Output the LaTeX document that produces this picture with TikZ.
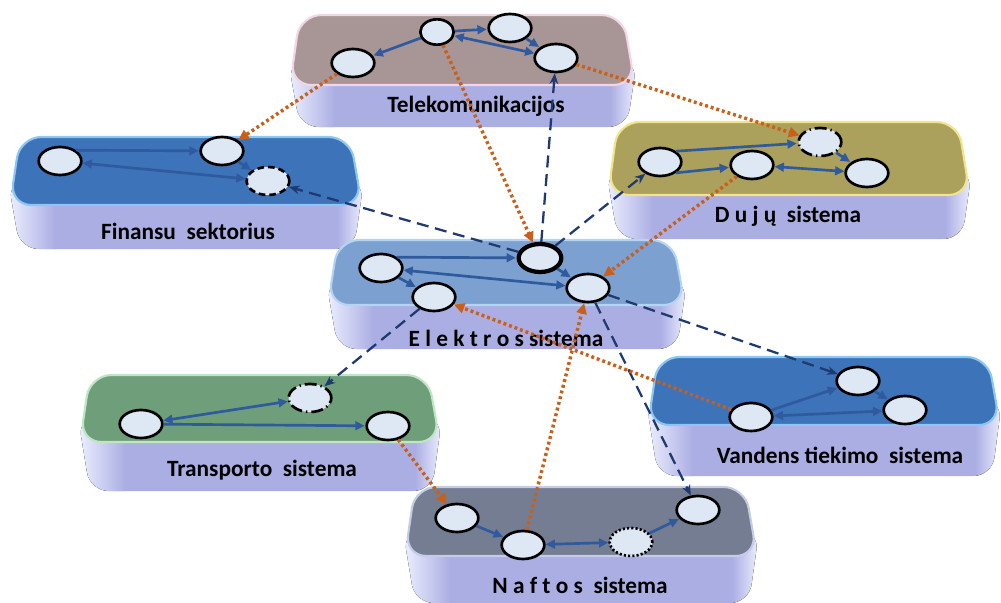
\documentclass[tikz,border=0pt]{standalone}
\usepackage{fontspec}
\setmainfont{Carlito}
\usetikzlibrary{shapes.geometric,arrows.meta}
\definecolor{lav}{HTML}{ABAEE3}
\definecolor{lavlight}{HTML}{EEF0FF}
\definecolor{nfill}{HTML}{DDE8F4}
\definecolor{eblue}{HTML}{2F5A9E}
\definecolor{navy}{HTML}{1F3A6E}
\definecolor{orng}{HTML}{C9601A}
\definecolor{teletop}{HTML}{A89595}
\definecolor{telerim}{HTML}{F2D6E6}
\definecolor{finblue}{HTML}{3D73B9}
\definecolor{finrim}{HTML}{8CC6F2}
\definecolor{olive}{HTML}{ABA05C}
\definecolor{olrim}{HTML}{F2E48A}
\definecolor{eltop}{HTML}{7CA1D1}
\definecolor{elrim}{HTML}{B4D4F4}
\definecolor{grtop}{HTML}{6F9E7A}
\definecolor{grrim}{HTML}{BFE6C4}
\definecolor{natop}{HTML}{747D91}
\definecolor{narim}{HTML}{C6CCE6}
\newcommand{\slab}[7]{%
  \fill[lav, rounded corners=14] ({#1-2},{#4-25}) -- ({#1+10},#5) -- ({#2-8},#5) -- ({#2+2},{#4-25}) -- cycle;
  \begin{scope}
    \clip[rounded corners=14] ({#1-2},{#4-25}) -- ({#1+10},#5) -- ({#2-8},#5) -- ({#2+2},{#4-25}) -- cycle;
    \fill[left color=lavlight, right color=lav] ({#1-2},{#4-25}) rectangle ({#1+45},#5);
    \fill[left color=lav, right color=lavlight] ({#2-25},{#4-25}) rectangle ({#2+2},#5);
  \end{scope}
  \filldraw[fill=#6, draw=#7, line width=1.6pt, rounded corners=16] ({#1+10},#3) -- ({#2-12},#3) -- (#2,#4) -- (#1,#4) -- cycle;
}
\tikzset{
  enode/.style={ellipse, draw=black, line width=2pt, fill=nfill, minimum width=32pt, minimum height=21pt, inner sep=0pt},
  lbl/.style={font=\fontsize{17.5}{20}\selectfont\bfseries, text=black, inner sep=0pt},
  inedge/.style={draw=eblue, line width=2pt, -{Triangle[length=7pt,width=6.5pt]}, shorten >=0.5pt},
  biedge/.style={draw=eblue, line width=2pt, {Triangle[length=7pt,width=6.5pt]}-{Triangle[length=7pt,width=6.5pt]}},
  dashc/.style={draw=navy, line width=1.7pt, dash pattern=on 9pt off 5pt, -{Stealth[length=8pt,width=6.5pt]}},
  dotc/.style={draw=orng, line width=2.6pt, dash pattern=on 2.2pt off 2.2pt, -{Triangle[length=8pt,width=7.5pt]}}
}
\begin{document}
\begin{tikzpicture}[x=0.75pt,y=-0.75pt]
\useasboundingbox (0,0) rectangle (1001,603);
% slabs
\slab{290}{635}{15}{85}{127}{teletop}{telerim}
\slab{10}{362}{137}{205}{249}{finblue}{finrim}
\slab{608}{970}{122}{195}{239}{olive}{olrim}
\slab{328}{685}{240}{305}{349}{eltop}{elrim}
\slab{80}{440}{375}{442}{491}{grtop}{grrim}
\slab{648}{1000}{357}{425}{476}{finblue}{finrim}
\slab{405}{757}{487}{556}{603}{natop}{narim}
% labels
\node[lbl] (lt) at (476,106) {Telekomunikacijos};
\node[lbl] (lf) at (188,231) {Finansu\ \ sektorius};
\node[lbl] (ld) at (788,216) {D u j ų\ \ sistema};
\node[lbl] (le) at (506,338) {E l e k t r o s sistema};
\node[lbl] (lr) at (262,470) {Transporto\ \ sistema};
\node[lbl] (lv) at (840,455) {Vandens tiekimo\ \ sistema};
\node[lbl] (ln) at (580,585) {N a f t o s\ \ sistema};
% nodes
\node[enode] (T1) at (353,63) {};
\node[enode, minimum width=25pt, minimum height=19pt] (T2) at (437,32) {};
\node[enode] (T3) at (510,28) {};
\node[enode] (T4) at (556,58) {};
\node[enode] (F1) at (60,161) {};
\node[enode] (F2) at (222,151) {};
\node[enode, dash pattern=on 5pt off 3pt] (F3) at (268,181) {};
\node[enode] (D1) at (660,162) {};
\node[enode] (D2) at (752,165) {};
\node[enode, dash pattern=on 9pt off 3pt on 1pt off 3pt] (D3) at (820,142) {};
\node[enode] (D4) at (867,173) {};
\node[enode] (E1) at (381,268) {};
\node[enode, line width=3.2pt] (E2) at (540,258) {};
\node[enode] (E3) at (434,297) {};
\node[enode] (E4) at (588,288) {};
\node[enode] (R1) at (141,424) {};
\node[enode, dash pattern=on 9pt off 3pt on 1pt off 3pt] (R2) at (310,398) {};
\node[enode] (R3) at (388,426) {};
\node[enode] (V1) at (751,417) {};
\node[enode] (V2) at (858,381) {};
\node[enode] (V3) at (905,410) {};
\node[enode] (N1) at (457,518) {};
\node[enode] (N2) at (523,545) {};
\node[enode, dash pattern=on 1.6pt off 1.6pt] (N3) at (631,542) {};
\node[enode] (N4) at (698,510) {};
% inner edges
\draw[inedge] (T2) -- (T1);
\draw[inedge] (T2) -- (T3);
\draw[inedge] (T3) -- (T4);
\draw[biedge] (T2) -- (T4);
\draw[inedge] (F1.north east) -- (F2);
\draw[inedge] (F2) -- (F3);
\draw[biedge] (F1) -- (F3);
\draw[inedge] (D1.north east) -- (D3);
\draw[inedge] (D1.south east) -- (D2);
\draw[inedge] (D3) -- (D4);
\draw[biedge] (D2) -- (D4);
\draw[inedge] (E1.north east) -- (E2);
\draw[inedge] (E1) -- (E3);
\draw[inedge] (E2) -- (E4);
\draw[biedge] (E1) -- (E4);
\draw[biedge] (R1) -- (R2);
\draw[inedge] (R1) -- (R3);
\draw[inedge] (V1) -- (V2);
\draw[inedge] (V2) -- (V3);
\draw[biedge] (V1) -- (V3);
\draw[inedge] (N1) -- (N2);
\draw[biedge] (N2) -- (N3);
\draw[inedge] (N3) -- (N4);
% dashed cross-layer connectors
\draw[dashc] (E2) -- (F3);
\draw[dashc] (E2) -- (T4);
\draw[dashc] (E2) -- (D1);
\draw[dashc] (E3) -- (R2);
\draw[dashc] (E4) -- (V2);
\draw[dashc] (E4) -- (N4);
% dotted cross-layer connectors
\draw[dotc] (T1) -- (F2);
\draw[dotc] (T2) -- (E2);
\draw[dotc] (T4) -- (D3);
\draw[dotc] (D2) -- (E4);
\draw[dotc] (V1) -- (E3);
\draw[dotc] (R3) -- (N1);
\draw[dotc] (N2) -- (E4);
\end{tikzpicture}
\end{document}
